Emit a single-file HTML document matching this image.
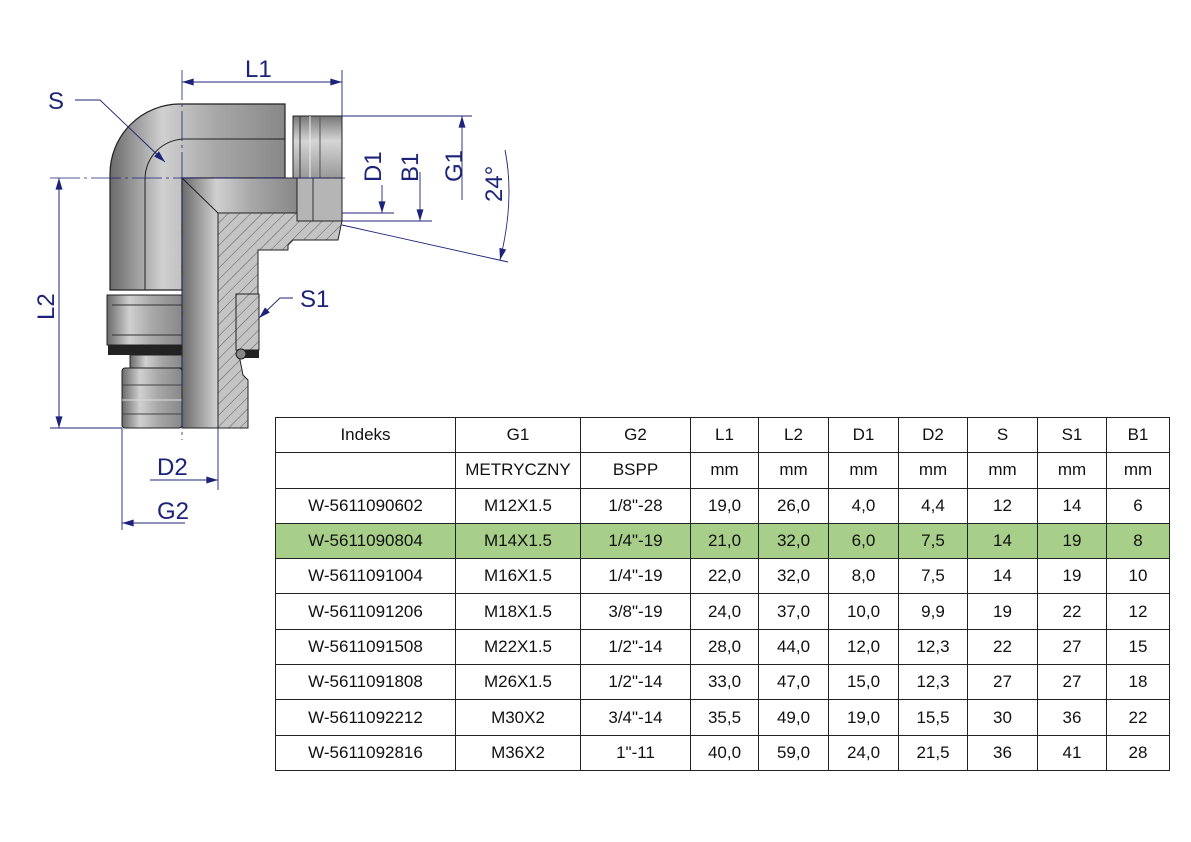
<!DOCTYPE html>
<html><head><meta charset="utf-8"><style>
body{margin:0;width:1191px;height:842px;background:#fff;position:relative;overflow:hidden;font-family:"Liberation Sans",sans-serif}
svg{position:absolute;left:0;top:0}
table{position:absolute;left:275px;top:417px;border-collapse:collapse;table-layout:fixed;font-size:17px;color:#111}
td{border:1.5px solid #222;height:34.3px;padding:0;text-align:center;white-space:nowrap;overflow:hidden}
tr.g td{background:#a8cf8a}
</style></head><body>
<svg width="1191" height="842" viewBox="0 0 1191 842">
<defs>
<linearGradient id="gv" x1="0" x2="1" y1="0" y2="0"><stop offset="0" stop-color="#6a6a6a"/><stop offset=".3" stop-color="#d0d0d0"/><stop offset=".6" stop-color="#a8a8a8"/><stop offset="1" stop-color="#888"/></linearGradient>
<linearGradient id="gh" x1="0" x2="0" y1="0" y2="1"><stop offset="0" stop-color="#777"/><stop offset=".4" stop-color="#d5d5d5"/><stop offset="1" stop-color="#999"/></linearGradient>
<pattern id="hatch" width="8" height="8" patternUnits="userSpaceOnUse" patternTransform="rotate(45)"><rect width="8" height="8" fill="#c4c4c4"/><line x1="0" y1="0" x2="0" y2="8" stroke="#444" stroke-width="0.8"/></pattern>
<marker id="ar" viewBox="0 0 10 6" refX="10" refY="3" markerWidth="12" markerHeight="7" orient="auto" markerUnits="userSpaceOnUse"><path d="M0,0L10,3L0,6z" fill="#1c2378"/></marker>
</defs>
<path d="M110,290 L110,174 A70,70 0 0 1 180,104 L285,104 L285,178 L182,178 L182,290 Z" fill="url(#gv)" stroke="#222" stroke-width="1.2"/>
<path d="M145,290 L145,179 A40,40 0 0 1 185,139 L285,139" fill="none" stroke="#222" stroke-width="1"/>
<path d="M182,178 L297,178 L297,213 L218,213 L218,428 L182,428 Z" fill="url(#gv)" stroke="#222" stroke-width="1"/>
<line x1="182" y1="178" x2="218" y2="213" stroke="#222"/>
<path d="M218,213 L297,213 L297,221 L342,221 L338,240 L293,240 L288,245 L288,250 L258,250 L258,294 L236,294 L236,345 L240,360 L243,375 L248,380 L248,428 L218,428 Z" fill="url(#hatch)" stroke="#222" stroke-width="1"/>
<rect x="236" y="294" width="23" height="56" fill="url(#hatch)" stroke="#222"/>
<rect x="241" y="350" width="18" height="8" fill="#222"/>
<circle cx="241" cy="354" r="5" fill="#888" stroke="#222"/>
<rect x="293" y="116" width="49" height="62" fill="url(#gh)" stroke="#222"/>
<line x1="300" y1="116" x2="300" y2="178" stroke="#333"/>
<line x1="310" y1="116" x2="310" y2="178" stroke="#eee"/>
<line x1="320" y1="116" x2="320" y2="178" stroke="#555"/>
<rect x="297" y="178" width="45" height="43" fill="#b5b5b5" stroke="#222"/>
<line x1="313" y1="178" x2="313" y2="221" stroke="#333"/>
<rect x="107" y="295" width="75" height="50" fill="url(#gv)" stroke="#222"/>
<line x1="112" y1="305" x2="182" y2="305" stroke="#333"/>
<line x1="112" y1="335" x2="182" y2="335" stroke="#333"/>
<rect x="108" y="345" width="74" height="10" fill="#222"/>
<rect x="130" y="355" width="52" height="13" fill="url(#gv)" stroke="#222"/>
<rect x="122" y="368" width="60" height="60" rx="3" fill="url(#gv)" stroke="#222"/>
<line x1="122" y1="385" x2="182" y2="385" stroke="#444"/>
<line x1="122" y1="400" x2="182" y2="400" stroke="#ddd"/>
<line x1="122" y1="414" x2="182" y2="414" stroke="#444"/>
<line x1="50" y1="178" x2="345" y2="178" stroke="#1c2378" stroke-width="0.8" stroke-dasharray="30,4,3,4"/>
<line x1="182" y1="70" x2="182" y2="440" stroke="#1c2378" stroke-width="0.8" stroke-dasharray="30,4,3,4"/>
<g stroke="#1c2378" stroke-width="0.9" fill="none">
<line x1="342" y1="70" x2="342" y2="116"/>
<line x1="182" y1="82" x2="342" y2="82" marker-end="url(#ar)"/>
<line x1="342" y1="82" x2="182" y2="82" marker-end="url(#ar)"/>
<line x1="50" y1="428" x2="122" y2="428"/>
<line x1="59" y1="178" x2="59" y2="428" marker-end="url(#ar)"/>
<line x1="59" y1="428" x2="59" y2="178" marker-end="url(#ar)"/>
<polyline points="75,100 100,100 165,162" marker-end="url(#ar)"/>
<line x1="218" y1="428" x2="218" y2="490"/>
<line x1="150" y1="480" x2="218" y2="480" marker-end="url(#ar)"/>
<line x1="122" y1="428" x2="122" y2="530"/>
<line x1="185" y1="523" x2="122" y2="523" marker-end="url(#ar)"/>
<line x1="342" y1="116" x2="472" y2="116"/>
<line x1="342" y1="213" x2="394" y2="213"/>
<line x1="342" y1="221" x2="432" y2="221"/>
<line x1="382" y1="185" x2="382" y2="213" marker-end="url(#ar)"/>
<line x1="420" y1="172" x2="420" y2="221" marker-end="url(#ar)"/>
<line x1="462" y1="200" x2="462" y2="116" marker-end="url(#ar)"/>
<line x1="342" y1="225" x2="508" y2="262"/>
<path d="M505,150 Q515,200 500,260" marker-end="url(#ar)"/>
<polyline points="293,298 280,298 259,318" marker-end="url(#ar)"/>
</g>
<g fill="#1c2378" font-family="Liberation Sans,sans-serif" font-size="24">
<text x="245" y="77">L1</text>
<text x="48" y="109">S</text>
<text x="300" y="307">S1</text>
<text x="157" y="475">D2</text>
<text x="157" y="519">G2</text>
<text transform="translate(54,320) rotate(-90)">L2</text>
<text transform="translate(381,182) rotate(-90)">D1</text>
<text transform="translate(418,182) rotate(-90)">B1</text>
<text transform="translate(462,182) rotate(-90)">G1</text>
<text transform="translate(502,202) rotate(-90)">24°</text>
</g>
</svg>
<table>
<colgroup><col style="width:180px"><col style="width:125px"><col style="width:110px"><col style="width:68px"><col style="width:70px"><col style="width:70px"><col style="width:69px"><col style="width:70px"><col style="width:69px"><col style="width:63px"></colgroup>
<tr><td>Indeks</td><td>G1</td><td>G2</td><td>L1</td><td>L2</td><td>D1</td><td>D2</td><td>S</td><td>S1</td><td>B1</td></tr>
<tr><td></td><td>METRYCZNY</td><td>BSPP</td><td>mm</td><td>mm</td><td>mm</td><td>mm</td><td>mm</td><td>mm</td><td>mm</td></tr>
<tr><td>W-5611090602</td><td>M12X1.5</td><td>1/8"-28</td><td>19,0</td><td>26,0</td><td>4,0</td><td>4,4</td><td>12</td><td>14</td><td>6</td></tr>
<tr class="g"><td>W-5611090804</td><td>M14X1.5</td><td>1/4"-19</td><td>21,0</td><td>32,0</td><td>6,0</td><td>7,5</td><td>14</td><td>19</td><td>8</td></tr>
<tr><td>W-5611091004</td><td>M16X1.5</td><td>1/4"-19</td><td>22,0</td><td>32,0</td><td>8,0</td><td>7,5</td><td>14</td><td>19</td><td>10</td></tr>
<tr><td>W-5611091206</td><td>M18X1.5</td><td>3/8"-19</td><td>24,0</td><td>37,0</td><td>10,0</td><td>9,9</td><td>19</td><td>22</td><td>12</td></tr>
<tr><td>W-5611091508</td><td>M22X1.5</td><td>1/2"-14</td><td>28,0</td><td>44,0</td><td>12,0</td><td>12,3</td><td>22</td><td>27</td><td>15</td></tr>
<tr><td>W-5611091808</td><td>M26X1.5</td><td>1/2"-14</td><td>33,0</td><td>47,0</td><td>15,0</td><td>12,3</td><td>27</td><td>27</td><td>18</td></tr>
<tr><td>W-5611092212</td><td>M30X2</td><td>3/4"-14</td><td>35,5</td><td>49,0</td><td>19,0</td><td>15,5</td><td>30</td><td>36</td><td>22</td></tr>
<tr><td>W-5611092816</td><td>M36X2</td><td>1"-11</td><td>40,0</td><td>59,0</td><td>24,0</td><td>21,5</td><td>36</td><td>41</td><td>28</td></tr>
</table>
</body></html>
